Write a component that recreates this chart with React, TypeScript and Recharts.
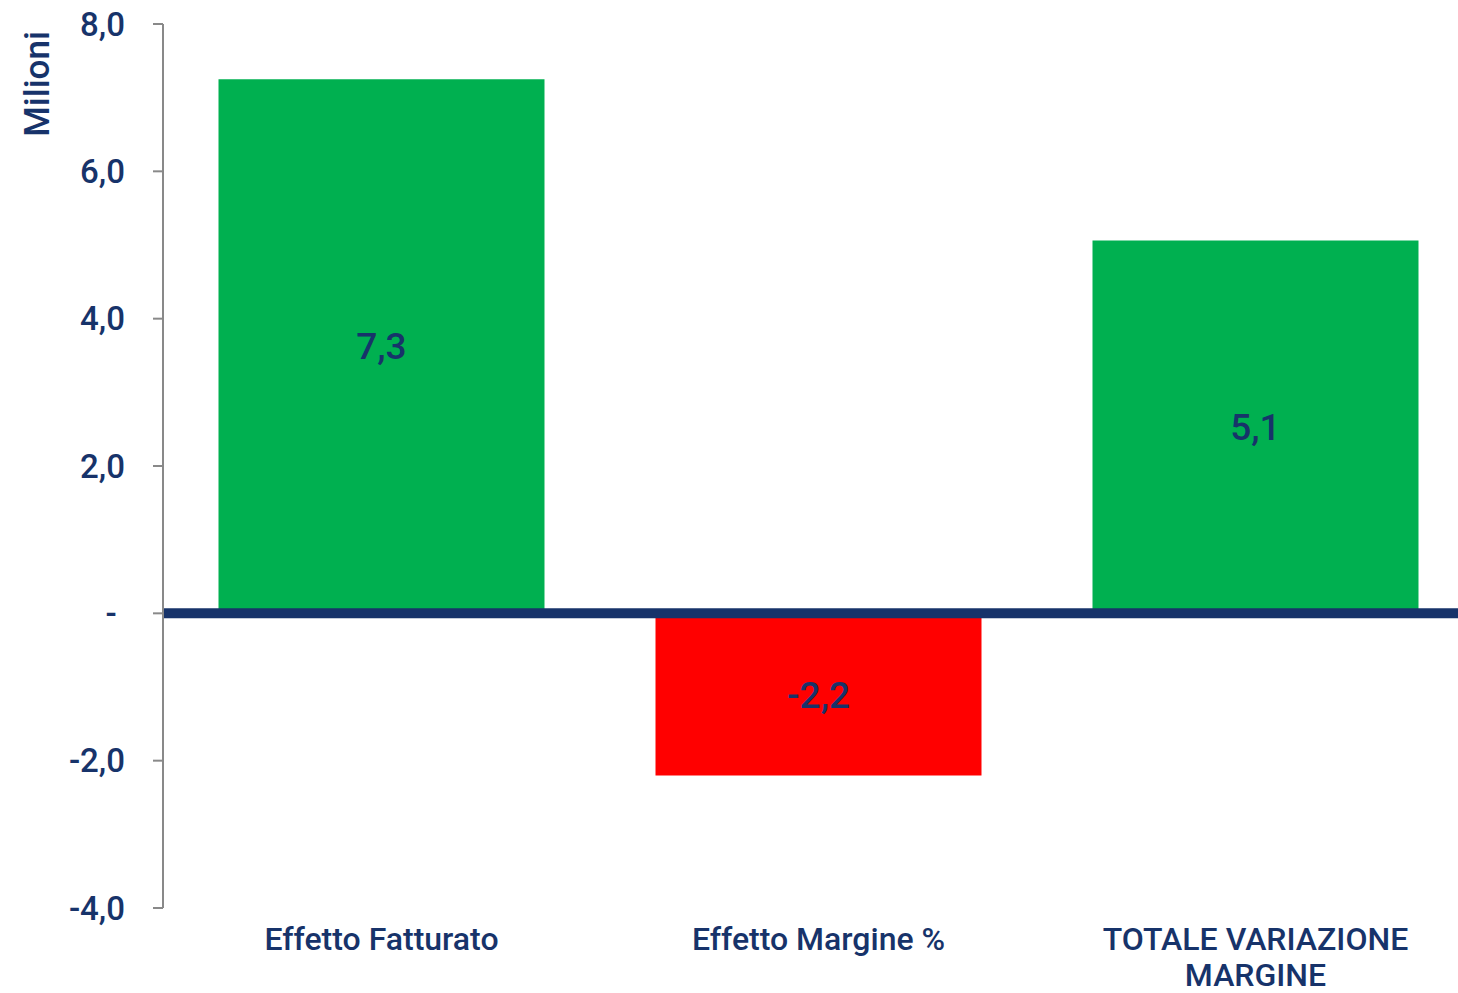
import React from "react";
import { BarChart, Bar, XAxis, YAxis, Cell, LabelList, ReferenceLine, Label } from "recharts";

const categories = ["Effetto Fatturato", "Effetto Margine %", "TOTALE VARIAZIONE MARGINE"];
const values = [7.25, -2.2, 5.06];
const valueLabels = ["7,3", "-2,2", "5,1"];
const yTicks = [-4, -2, 0, 2, 4, 6, 8];

const data = categories.map((c, i) => ({ name: c, value: values[i], label: valueLabels[i] }));

const NAVY = "#17336a";
const GREEN = "#00b050";
const RED = "#ff0000";
const FONT = "Roboto, 'Noto Sans', sans-serif";

const fmt = (v: number) => (v === 0 ? "-\u00A0" : v.toFixed(1).replace(".", ","));

const wrap = (s: string, maxChars: number) => {
  const words = s.split(" ");
  const lines: string[] = [];
  let cur = "";
  for (const w of words) {
    const next = cur ? cur + " " + w : w;
    if (next.length > maxChars && cur) {
      lines.push(cur);
      cur = w;
    } else {
      cur = next;
    }
  }
  if (cur) lines.push(cur);
  return lines;
};

const CatTick = (props: any) => {
  const { x, y, payload } = props;
  const lines = wrap(String(payload.value), 18);
  return (
    <text
      x={x}
      y={y}
      textAnchor="middle"
      fill={NAVY}
      fontSize={32}
      fontWeight={500}
      fontFamily={FONT}
    >
      {lines.map((l, i) => (
        <tspan key={i} x={x} dy={i === 0 ? 23 : 36}>
          {l}
        </tspan>
      ))}
    </text>
  );
};

export default function App() {
  return (
    <div style={{ position: "absolute", left: 0, top: 0, background: "#fff" }}>
      <BarChart
        width={1458}
        height={993}
        data={data}
        margin={{ top: 24, right: -16, bottom: 0, left: 63 }}
        barCategoryGap="12.7%"
      >
        <XAxis
          dataKey="name"
          axisLine={false}
          tickLine={false}
          tickSize={0}
          tickMargin={19}
          height={85}
          interval={0}
          tick={<CatTick />}
        />
        <YAxis
          type="number"
          domain={[-4, 8]}
          ticks={yTicks}
          width={100}
          tickSize={10}
          tickMargin={28}
          axisLine={{ stroke: "#898989", strokeWidth: 2 }}
          tickLine={{ stroke: "#898989", strokeWidth: 2 }}
          tickFormatter={fmt}
          tick={{ fill: NAVY, fontSize: 33, fontWeight: 500, fontFamily: FONT }}
        >
          <Label
            content={() => (
              <text
                x={37}
                y={84}
                transform="rotate(-90, 37, 84)"
                textAnchor="middle"
                dominantBaseline="central"
                fill={NAVY}
                fontSize={35}
                fontWeight={500}
                fontFamily={FONT}
              >
                Milioni
              </text>
            )}
          />
        </YAxis>
        <Bar dataKey="value" isAnimationActive={false}>
          {data.map((d, i) => (
            <Cell key={i} fill={d.value >= 0 ? GREEN : RED} />
          ))}
          <LabelList
            dataKey="label"
            position="center"
            fill={NAVY}
            fontSize={37}
            fontWeight={500}
            fontFamily={FONT}
          />
        </Bar>
        <ReferenceLine y={0} stroke={NAVY} strokeWidth={10} />
      </BarChart>
    </div>
  );
}
